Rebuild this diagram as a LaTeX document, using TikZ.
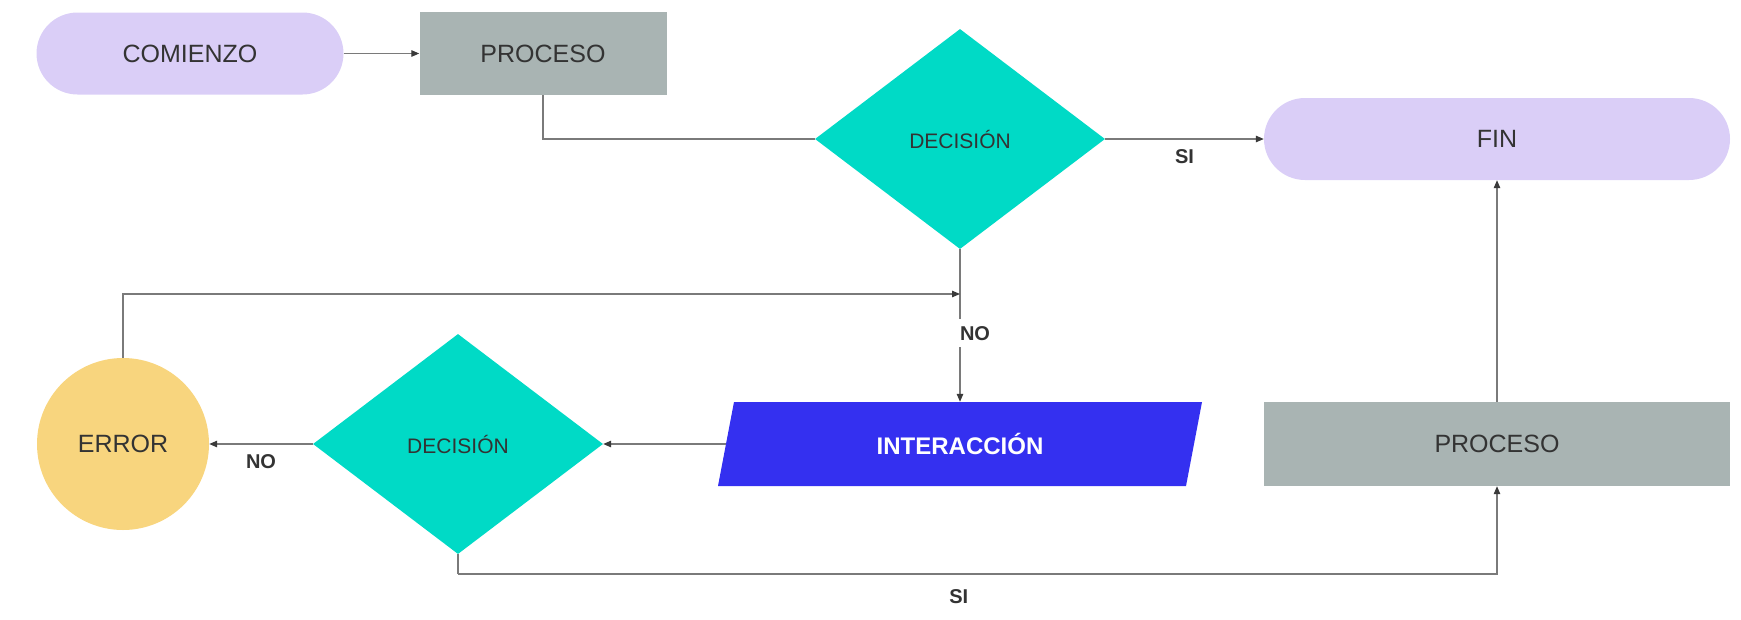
\documentclass[tikz,border=0pt]{standalone}
\usepackage{fontspec}
\setmainfont{Liberation Sans}
\usetikzlibrary{shapes.geometric,arrows.meta,calc}
\definecolor{lav}{HTML}{DACEF7}
\definecolor{procgray}{HTML}{A9B4B3}
\definecolor{turq}{HTML}{00DAC6}
\definecolor{errfill}{HTML}{F8D57E}
\definecolor{intblue}{HTML}{3430F0}
\definecolor{linegray}{HTML}{7A7A7A}
\definecolor{tipgray}{HTML}{3A3A3A}
\definecolor{txt}{HTML}{333333}
\begin{document}
\begin{tikzpicture}[x=1pt,y=-1pt,
  mainfont/.style={font=\fontsize{25}{30}\selectfont, text=txt},
  terminal/.style={mainfont, rectangle, fill=lav, rounded corners=41pt, minimum height=82pt, inner sep=0pt},
  procbox/.style={mainfont, rectangle, fill=procgray, minimum height=83pt, inner sep=0pt},
  decbox/.style={diamond, fill=turq, minimum width=290pt, minimum height=220pt, inner sep=0pt,
     font=\fontsize{21}{25}\selectfont, text=txt},
  errbox/.style={mainfont, circle, fill=errfill, minimum size=172pt, inner sep=0pt},
  iobox/.style={font=\fontsize{24}{29}\selectfont\bfseries, text=white, rectangle, minimum width=484pt,
     minimum height=84pt, inner sep=0pt,
     path picture={\fill[intblue]
        ($(path picture bounding box.north west)+(16pt,0)$) --
        (path picture bounding box.north east) --
        ($(path picture bounding box.south east)+(-16pt,0)$) --
        (path picture bounding box.south west) -- cycle;}},
  conn/.style={draw=linegray, line width=1.2pt},
  arr/.style={conn, -{Triangle[length=8pt,width=6.5pt,color=tipgray]}},
  lbl/.style={font=\fontsize{20}{24}\selectfont\bfseries, text=txt, inner sep=2pt}
]
\useasboundingbox (0,0) rectangle (1741,619);

\node[terminal, minimum width=307pt] (com) at (190,53.5) {COMIENZO};
\node[procbox, minimum width=247pt] (p1) at (543,53.5) {PROCESO};
\node[decbox] (d1) at (960,139) {DECISIÓN};
\node[terminal, minimum width=466pt] (fin) at (1497,139) {FIN};
\node[errbox] (err) at (123,444) {ERROR};
\node[decbox] (d2) at (458,444) {DECISIÓN};
\node[iobox] (int) at (960,444) {INTERACCIÓN};
\node[procbox, minimum width=466pt, minimum height=84pt] (p2) at (1497,444) {PROCESO};

\coordinate (j) at (960,294);
\coordinate (b) at (458,574);

\draw[arr] (com) -- (p1);
\draw[conn] (p1.south) |- (d1.west);
\draw[arr] (d1.east) -- node[lbl, midway, yshift=-18pt] {SI} (fin.west);
\draw[arr] (d1.south) -- node[lbl, pos=0.55, xshift=15pt, fill=white, inner ysep=7pt] {NO} (int.north);
\draw[arr] (err.north) |- (j);
\draw[arr] ([xshift=8pt]int.west) -- (d2.east);
\draw[arr] (d2.west) -- node[lbl, midway, yshift=-18pt] {NO} (err.east);
\draw[conn] (d2.south) -- (b);
\draw[arr] (b) -| node[lbl, pos=0.241, yshift=-23pt] {SI} (p2.south);
\draw[arr] (p2.north) -- (fin.south);
\end{tikzpicture}
\end{document}
